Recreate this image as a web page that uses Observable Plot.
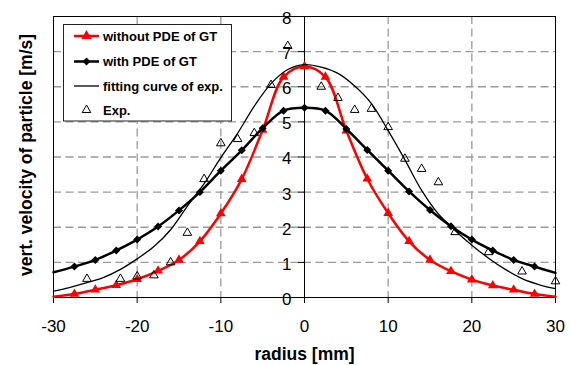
<!DOCTYPE html>
<html><head><meta charset="utf-8">
<script src="https://cdn.jsdelivr.net/npm/d3@7"></script>
<script src="https://cdn.jsdelivr.net/npm/@observablehq/plot@0.6"></script>
<style>body{margin:0;background:#fff;} #chart{width:571px;height:365px;}</style>
</head><body><div id="chart"></div>
<script>
// ---- data ----
const simRadius = [-30,-27.5,-25,-22.5,-20,-17.5,-15,-12.5,-10,-7.5,-5,-2.5,0,2.5,5,7.5,10,12.5,15,17.5,20,22.5,25,27.5,30];
const withoutPDE = [0.02,0.10,0.22,0.35,0.52,0.76,1.07,1.60,2.39,3.37,4.77,6.28,6.58,6.28,4.75,3.38,2.40,1.60,1.07,0.75,0.51,0.34,0.22,0.10,0.02];
const withPDE = [0.72,0.88,1.07,1.34,1.65,2.02,2.48,3.00,3.61,4.19,4.82,5.32,5.40,5.32,4.80,4.20,3.61,3.02,2.49,2.03,1.65,1.34,1.07,0.88,0.70];
const fitRadius = [-30,-28,-26,-24,-22,-20,-18,-16,-14,-12,-10,-8,-6,-4,-2,0,2,4,6,8,10,12,14,16,18,20,22,24,26,28,30];
const fitVelocity = [0.18,0.29,0.42,0.57,0.80,1.10,1.45,1.93,2.60,3.24,3.98,4.67,5.45,6.09,6.49,6.63,6.56,6.38,6.02,5.52,4.75,3.92,3.05,2.38,1.91,1.49,1.12,0.80,0.54,0.37,0.25];
const expRadius = [-26,-22,-20,-18,-16,-14,-12,-10,-8,-6,-4,-2,2,4,6,8,10,12,14,16,18,22,26,30];
const expVelocity = [0.53,0.53,0.60,0.63,1.00,1.84,3.37,4.39,4.51,4.68,6.05,7.16,6.00,5.68,5.34,5.37,4.85,3.95,3.66,3.28,1.86,1.29,0.74,0.46];
const xTicks = [-30,-20,-10,0,10,20,30];
const yTicks = [0,1,2,3,4,5,6,7,8];
const xGrid = [-20,-10,10,20];
const yGrid = [1,2,3,4,5,6,7];
const legendLabels = ["without PDE of GT","with PDE of GT","fitting curve of exp.","Exp."];
const xTitle = "radius [mm]";
const yTitle = "vert. velocity of particle [m/s]";

// ---- tables ----
const sim = simRadius.map((r, i) => ({r, without: withoutPDE[i], with: withPDE[i]}));
const simMarked = sim.filter(d => Math.abs(d.r) < 30);
const fit = fitRadius.map((r, i) => ({r, v: fitVelocity[i]}));
const exp = expRadius.map((r, i) => ({r, v: expVelocity[i]}));

const FONT = "'Liberation Sans', Arial, sans-serif";
const gridStyle = {stroke: "#9a9a9a", strokeWidth: 1.3, strokeDasharray: "8,4.5"};

const chart = Plot.plot({
  width: 571, height: 365,
  marginLeft: 53, marginRight: 16, marginTop: 16, marginBottom: 68,
  style: {fontFamily: FONT, fontSize: "17px", background: "white", overflow: "visible"},
  x: {domain: [-30, 30], ticks: xTicks},
  y: {domain: [0, 8], ticks: yTicks, axis: null},
  marks: [
    Plot.ruleY(yGrid, gridStyle),
    Plot.ruleX(xGrid, gridStyle),
    Plot.frame({stroke: "black", strokeWidth: 1}),
    Plot.ruleX([0], {stroke: "black", strokeWidth: 1}),
    Plot.ruleY(yTicks, {y: d => d, x1: 0, x2: 0, insetLeft: -6, stroke: "black"}),
    Plot.text(yTicks, {x: 0, y: d => d, text: d => String(d), textAnchor: "end", dx: -13, dy: 2, fontSize: 17}),
    Plot.axisX(xTicks, {anchor: "bottom", tickSize: 6, tickPadding: 16, fontSize: 17, label: null, tickFormat: d => String(d), stroke: "black"}),
    Plot.text([xTitle], {frameAnchor: "bottom", textAnchor: "middle", lineAnchor: "middle", dy: 57, fontWeight: "bold", fontSize: 17.5}),
    Plot.text([yTitle], {frameAnchor: "left", textAnchor: "middle", lineAnchor: "middle", rotate: -90, dx: -27, dy: -2, fontWeight: "bold", fontSize: 17.5}),
    // without PDE
    Plot.line(sim, {x: "r", y: "without", stroke: "#ff0000", strokeWidth: 2.5, curve: "catmull-rom"}),
    Plot.dot(simMarked, {x: "r", y: "without", symbol: "triangle", r: 3.6, fill: "#ff0000", stroke: "none"}),
    // with PDE
    Plot.line(sim, {x: "r", y: "with", stroke: "black", strokeWidth: 2.5, curve: "catmull-rom"}),
    Plot.dot(simMarked, {x: "r", y: "with", symbol: "diamond2", r: 3.6, fill: "black", stroke: "none"}),
    // fit
    Plot.line(fit, {x: "r", y: "v", stroke: "black", strokeWidth: 1.3, curve: "catmull-rom"}),
    // exp
    Plot.dot(exp, {x: "r", y: "v", symbol: "triangle", r: 3.2, fill: "none", stroke: "black", strokeWidth: 1})
  ]
});
document.getElementById("chart").appendChild(chart);

// ---- legend ----
const svg = d3.select(chart);
const lg = svg.append("g").attr("font-family", FONT).attr("text-anchor", "start");
lg.append("rect").attr("x", 63.5).attr("y", 24.5).attr("width", 168).attr("height", 96.5)
  .attr("fill", "white").attr("stroke", "#222").attr("stroke-width", 1);
const rowsY = [36, 61.5, 86, 110];
const styles = [
  {stroke: "#ff0000", sw: 2.5, sym: d3.symbolTriangle, fill: "#ff0000", symStroke: "none", size: Math.PI * 3.8 * 3.8},
  {stroke: "black", sw: 2.5, sym: d3.symbolDiamond2, fill: "black", symStroke: "none", size: Math.PI * 3.6 * 3.6},
  {stroke: "black", sw: 1.3, sym: null},
  {stroke: null, sym: d3.symbolTriangle, fill: "none", symStroke: "black", size: Math.PI * 3.2 * 3.2}
];
legendLabels.forEach((label, i) => {
  const y = rowsY[i], s = styles[i];
  if (s.stroke) lg.append("line").attr("x1", 74).attr("x2", 99).attr("y1", y).attr("y2", y)
    .attr("stroke", s.stroke).attr("stroke-width", s.sw);
  if (s.sym) lg.append("path").attr("d", d3.symbol(s.sym, s.size)())
    .attr("transform", `translate(86.5,${y})`).attr("fill", s.fill).attr("stroke", s.symStroke);
  lg.append("text").attr("x", 103).attr("y", y + 4.7).attr("font-size", 13).attr("font-weight", "bold")
    .attr("text-anchor", "start").attr("fill", "black").text(label);
});
</script></body></html>
